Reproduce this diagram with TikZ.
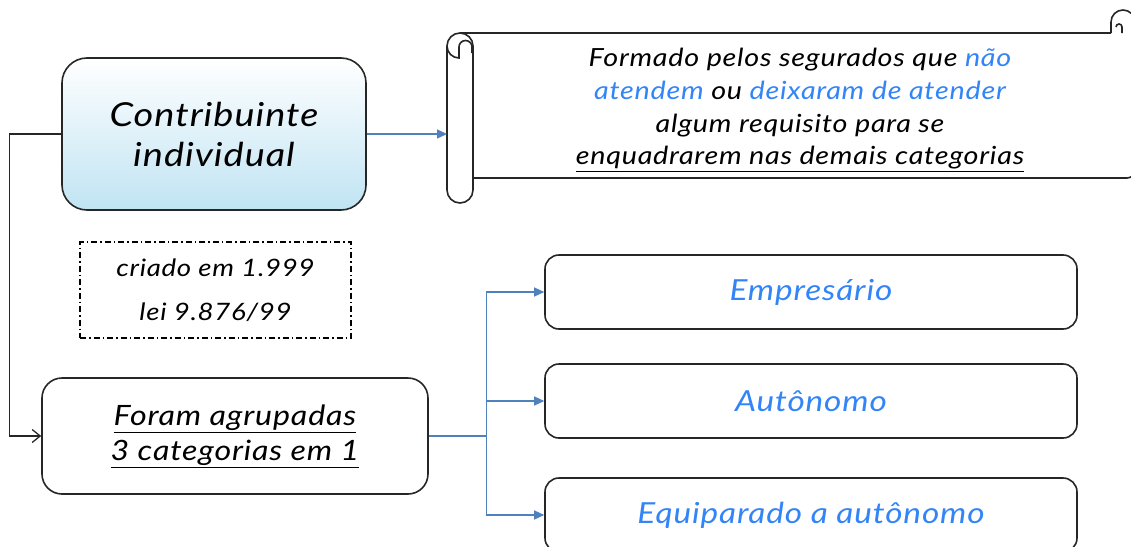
\documentclass[tikz,border=0pt]{standalone}
\usepackage{fontspec}
\setmainfont{Lato}[FakeStretch=1.15, LetterSpace=3]
\usetikzlibrary{arrows.meta}

\definecolor{azul}{HTML}{4F81BD}
\definecolor{azultexto}{HTML}{3385F7}
\definecolor{celeste}{HTML}{C0E4F3}

\tikzset{
  caixa/.style={draw=black!85, line width=1.6pt, align=center, font=\itshape},
  linha/.style={draw=black!85, line width=1.6pt},
  seta/.style={azul, line width=1.3pt, -{Triangle[length=10pt,width=9pt]}},
  ligacao/.style={black!85, line width=1.3pt, -{Straight Barb[length=8pt,width=13pt]}},
}

\begin{document}
\begin{tikzpicture}[x=1pt, y=-1pt]

\useasboundingbox (0,0) rectangle (1131,546);

\node[caixa, rounded corners=25pt, top color=white, bottom color=celeste,
  minimum width=304pt, minimum height=152pt,
  font=\itshape\fontsize{33}{40}\selectfont] (contrib) at (214,134)
  {Contribuinte\\individual};

% pergaminho
\draw[linha] (473,178) -- (1127,178) arc[start angle=90, end angle=0, radius=8] -- (1135,34);
\draw[linha] (460,33) -- (1111,33);
\draw[linha] (447,46) -- (447,190) arc[start angle=180, end angle=0, radius=13]
  -- (473,46) arc[start angle=0, end angle=-180, radius=13] -- cycle;
\draw[linha] (447,46) arc[start angle=180, end angle=90, radius=12]
  -- (459,47) arc[start angle=180, end angle=360, radius=6.5] -- (472,53);
\draw[linha] (1111,33) -- (1111,22) arc[start angle=180, end angle=390, radius=12];
\draw[linha] (1122,33) -- (1122,27) arc[start angle=0, end angle=-180, radius=3];
\coordinate (rolo) at (447,134);

\node[align=center, font=\itshape\fontsize{25}{32.7}\selectfont] (texto) at (800,110)
  {Formado pelos segurados que \textcolor{azultexto}{não}\\
   \textcolor{azultexto}{atendem} ou \textcolor{azultexto}{deixaram de atender}\\
   algum requisito para se\\
   \underline{enquadrarem nas demais categorias}};

\node[caixa, draw=black, line width=1.2pt,
  dash pattern=on 6pt off 3pt on 1.5pt off 3pt,
  minimum width=271pt, minimum height=96pt,
  font=\itshape\fontsize{24}{44}\selectfont] (nota) at (215.5,290)
  {criado em 1.999\\lei 9.876/99};

\node[caixa, rounded corners=20pt, minimum width=386pt, minimum height=116pt,
  font=\itshape\fontsize{28}{35}\selectfont] (foram) at (235,436)
  {\underline{Foram agrupadas}\\\underline{3 categorias em 1}};

\node[caixa, rounded corners=14pt, minimum width=532pt, minimum height=74pt,
  text=azultexto, font=\itshape\fontsize{29}{34}\selectfont] (emp) at (811,292) {Empresário};
\node[caixa, rounded corners=14pt, minimum width=532pt, minimum height=74pt,
  text=azultexto, font=\itshape\fontsize{29}{34}\selectfont] (aut) at (811,401) {Autônomo};
\node[caixa, rounded corners=14pt, minimum width=532pt, minimum height=74pt,
  text=azultexto, font=\itshape\fontsize{29}{34}\selectfont] (equip) at (811,515) {Equiparado a autônomo};

\draw[seta] (contrib.east) -- (rolo);
\draw[ligacao] (contrib.west) -- ++(-52,0) |- (foram.west);

\draw[azul, line width=1.3pt] (foram.east) -- ++(58,0) coordinate (tronco);
\foreach \alvo in {emp,aut,equip}
  \draw[seta] (tronco) |- (\alvo.west);

\end{tikzpicture}
\end{document}
